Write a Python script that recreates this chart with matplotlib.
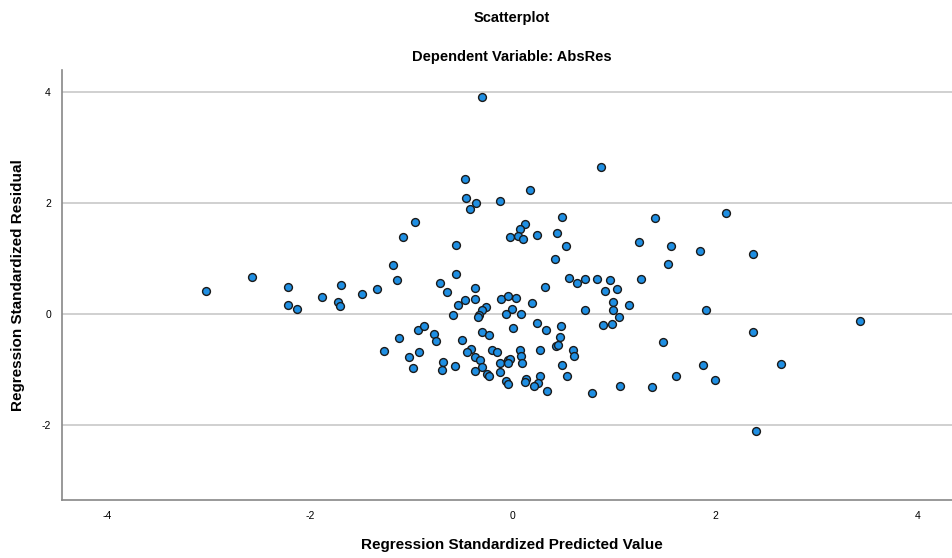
import matplotlib
matplotlib.use("Agg")
import matplotlib.pyplot as plt

plt.rcParams['font.family'] = ['Liberation Sans', 'DejaVu Sans']
plt.rcParams['axes.unicode_minus'] = False

# Regression standardized predicted value (x) and residual (y)
pred = [-0.30, 0.87, -0.47, 0.17, -0.46, -0.36, -0.12, -0.42, 2.11, -0.96,
        0.49, 1.41, 0.12, 0.07, -0.03, 0.05, 0.10, 0.24, 0.44, -1.08,
        -0.56, 0.53, 1.25, 1.56, 1.85, 2.37, 0.42, -1.18, 1.54, -2.57,
        -1.14, -0.56, -0.72, 0.56, 0.64, 0.72, 0.83, 0.96, 1.27, -3.03,
        -2.22, -1.69, -1.34, -1.49, -1.88, -2.22, -2.13, -1.72, -1.70, -0.65,
        -0.37, -0.37, 0.32, 0.91, 1.03, -0.47, -0.54, -0.11, -0.05, 0.03,
        0.19, -0.26, -0.30, -0.01, -0.33, -0.34, -0.59, -0.06, 0.08, 0.99,
        1.15, 0.72, 0.99, 1.91, 1.05, 3.43, 0.24, 0.89, 0.98, -0.93,
        -0.87, -0.78, -0.76, -1.12, -0.30, -0.23, 0.00, 0.33, 0.48, 0.47,
        -0.50, 2.37, 1.49, -1.27, -0.92, -1.02, -0.98, -0.41, -0.45, -0.20,
        -0.15, 0.07, 0.27, 0.43, 0.45, 0.60, 0.61, -0.37, -0.32, -0.69,
        -0.70, -0.57, -0.30, -0.37, -0.12, -0.05, -0.03, -0.05, 0.08, 0.09,
        0.49, 2.65, 1.88, -0.12, -0.25, -0.23, 0.54, -0.06, -0.05, 0.13,
        0.12, 0.27, 0.25, 0.21, 0.34, 0.78, 1.06, 1.38, 1.61, 2.00,
        2.40]
resid = [3.91, 2.65, 2.44, 2.23, 2.10, 2.01, 2.04, 1.89, 1.82, 1.66,
         1.75, 1.74, 1.63, 1.53, 1.39, 1.41, 1.35, 1.43, 1.47, 1.39,
         1.24, 1.23, 1.30, 1.22, 1.14, 1.08, 1.00, 0.89, 0.91, 0.67,
         0.62, 0.72, 0.56, 0.66, 0.56, 0.64, 0.63, 0.62, 0.64, 0.41,
         0.49, 0.52, 0.46, 0.37, 0.31, 0.17, 0.10, 0.21, 0.15, 0.39,
         0.47, 0.28, 0.48, 0.42, 0.46, 0.25, 0.16, 0.28, 0.32, 0.29,
         0.20, 0.13, 0.07, 0.10, -0.02, -0.05, -0.01, 0.01, 0.01, 0.22,
         0.17, 0.07, 0.07, 0.08, -0.05, -0.13, -0.16, -0.19, -0.17, -0.28,
         -0.22, -0.35, -0.49, -0.43, -0.32, -0.38, -0.25, -0.28, -0.22, -0.41,
         -0.46, -0.32, -0.50, -0.67, -0.68, -0.77, -0.97, -0.62, -0.68, -0.64,
         -0.69, -0.65, -0.64, -0.58, -0.56, -0.64, -0.76, -0.77, -0.83, -0.87,
         -1.00, -0.94, -0.95, -1.03, -0.88, -0.83, -0.81, -0.88, -0.76, -0.88,
         -0.91, -0.89, -0.92, -1.05, -1.08, -1.12, -1.11, -1.20, -1.26, -1.17,
         -1.23, -1.12, -1.24, -1.30, -1.39, -1.42, -1.29, -1.32, -1.11, -1.18,
         -2.11]

ticks = [-4, -2, 0, 2, 4]
yticks = [-2, 0, 2, 4]

fig = plt.figure(figsize=(9.53, 5.58), dpi=100)
ax = fig.add_axes([62 / 953, 1 - 500 / 558, 1 - 62 / 953, 430 / 558])

ax.scatter(pred, resid, s=32, facecolor='#1f8fe3', edgecolor='#1a1a1a',
           linewidths=1.0, zorder=3)

ax.set_xlim(-4.45, 4.35)
ax.set_ylim(-3.35, 4.4)
ax.set_xticks(ticks)
ax.set_yticks(yticks)
ax.tick_params(length=0, labelsize=7.5, pad=8)
ax.yaxis.grid(True, color='#c8c8c8', linewidth=1.2)
ax.set_axisbelow(True)
for s in ['top', 'right']:
    ax.spines[s].set_visible(False)
for s in ['left', 'bottom']:
    ax.spines[s].set_color('#888888')
    ax.spines[s].set_linewidth(1.2)

fig.text(512 / 953, 1 - 18 / 558, 'Scatterplot', ha='center', va='center',
         fontsize=10.5, fontweight='bold')
fig.text(512 / 953, 1 - 57 / 558, 'Dependent Variable: AbsRes', ha='center',
         va='center', fontsize=10.5, fontweight='bold')
fig.text(512 / 953, 1 - 545 / 558, 'Regression Standardized Predicted Value',
         ha='center', va='center', fontsize=11, fontweight='bold')
fig.text(18 / 953, 1 - 285 / 558, 'Regression Standardized Residual',
         ha='center', va='center', rotation=90, fontsize=11, fontweight='bold')

plt.savefig('out.png', dpi=100)
